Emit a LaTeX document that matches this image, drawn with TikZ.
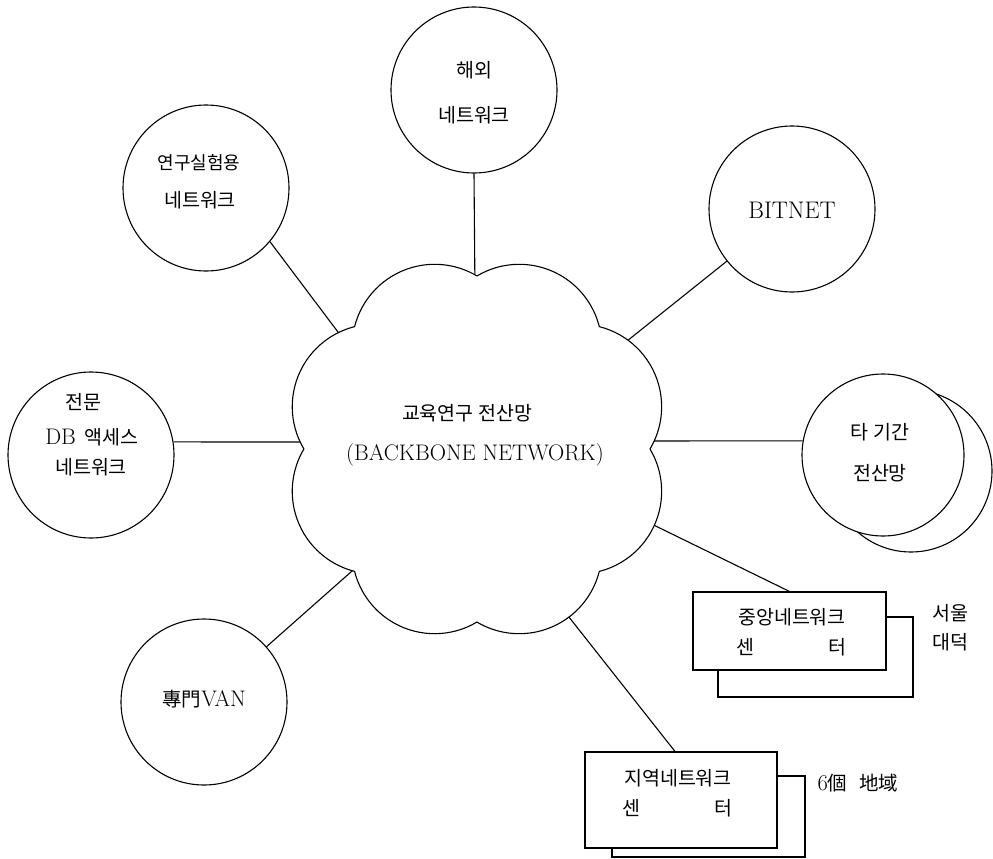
\documentclass[tikz,border=0pt]{standalone}
\usepackage{fontspec}
\newfontfamily\kr{Noto Sans CJK KR}
\pgfdeclarelayer{bg}
\pgfsetlayers{bg,main}
\newcommand\krsize{\kr\fontsize{19.5}{22}\selectfont}
\tikzset{
  net/.style={circle, draw, line width=1.1pt, minimum size=166pt, inner sep=0pt, fill=white},
  centre/.style={draw, line width=1.1pt, inner sep=0pt, fill=white},
  link/.style={line width=1.1pt},
  hang/.style={font=\krsize, inner sep=0pt},
  latn/.style={font=\fontsize{22.5}{26}\selectfont, inner sep=0pt}
}
\begin{document}
\begin{tikzpicture}[x=1pt, y=-1pt]
\useasboundingbox (0,0) rectangle (993,859);

% outer networks
\node[net] (hw) at (474,90) {};
\node[net] (ys) at (206,188) {};
\node[net] (bit) at (792,209) {};
\node[net] (db) at (91,455) {};
\node[net, minimum size=162pt] (tb) at (911,471) {};
\node[net, minimum size=162pt] (ta) at (883,455) {};
\node[net] (van) at (204,702) {};

% network centres (stacked cards)
\node[centre, minimum width=195pt, minimum height=80pt] (cbb) at (815.5,657) {};
\node[centre, minimum width=193pt, minimum height=78pt] (cb) at (789.5,631) {};
\node[centre, minimum width=193pt, minimum height=81pt] (rbb) at (708.5,816.5) {};
\node[centre, minimum width=192pt, minimum height=96pt] (rb) at (681,800) {};

% backbone cloud: eight arcs between notches on a circle of radius 173
\coordinate (cc) at (477,449);
\draw[link, fill=white] ([xshift=173pt]cc)
  foreach \k [evaluate=\k as \sa using 45*\k-30.8,
              evaluate=\k as \ea using 45*\k+75.8] in {0,...,7}
  { arc[start angle=\sa, end angle=\ea, radius=82.6] } -- cycle;

% link end points, just inside the cloud outline
\coordinate (in-n) at (475,295);
\coordinate (in-nw) at (353,352);
\coordinate (in-ne) at (607,357);
\coordinate (in-w) at (320,442);
\coordinate (in-e) at (630,441);
\coordinate (in-se) at (627,512);
\coordinate (in-s) at (555.5,600);
\coordinate (in-sw) at (369,556);

\begin{pgfonlayer}{bg}
  \draw[link] (hw.south) -- (in-n);
  \draw[link] (ys.-40) -- (in-nw);
  \draw[link] (bit) -- (in-ne);
  \draw[link] (db.9) -- (in-w);
  \draw[link] (ta.170) -- (in-e);
  \draw[link] (cb.north) -- (in-se);
  \draw[link] ([xshift=-6pt]rb.north) -- (in-s);
  \draw[link] (van) -- (in-sw);
\end{pgfonlayer}

% labels
\node[hang] (t-hw1) at (474,70) {해외};
\node[hang] (t-hw2) at (474,115) {네트워크};
\node[hang, font=\kr\fontsize{18}{21}\selectfont] (t-ys1) at (199,163) {연구실험용};
\node[hang] (t-ys2) at (200,200) {네트워크};
\node[latn, font=\fontsize{24}{28}\selectfont] (t-bit) at (792,210) {BITNET};
\node[hang] (t-db1) at (83,402) {전문};
\node[latn] (t-db2) at (92,437) {DB\hspace{9pt}{\krsize 액세스}};
\node[hang] (t-db3) at (91,467) {네트워크};
\node[hang] (t-bb1) at (467,413) {교육연구 전산망};
\node[latn] (t-bb2) at (475,455) {(BACKBONE NETWORK)};
\node[hang] (t-ta1) at (880,432) {타 기간};
\node[hang] (t-ta2) at (880,473) {전산망};
\node[latn] (t-van) at (204,699) {{\krsize 專門}VAN};
\node[hang] (t-cb1) at (792,617) {중앙네트워크};
\node[hang] (t-cb2) at (745,647) {센};
\node[hang] (t-cb3) at (837,647) {터};
\node[hang] (t-cb4) at (950,613) {서울};
\node[hang] (t-cb5) at (950,642) {대덕};
\node[hang] (t-rb1) at (678,778) {지역네트워크};
\node[hang] (t-rb2) at (631,808) {센};
\node[hang] (t-rb3) at (723,808) {터};
\node[latn] (t-rb4) at (858,783) {6{\krsize 個\hspace{12pt}地域}};
\end{tikzpicture}
\end{document}
